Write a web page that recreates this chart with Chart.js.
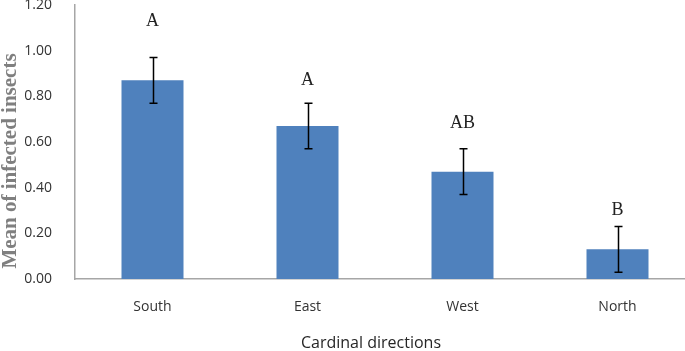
<!DOCTYPE html>
<html>
<head>
<meta charset="utf-8">
<script src="https://cdn.jsdelivr.net/npm/chart.js"></script>
<style>
    html, body { margin: 0; padding: 0; background: #fff; overflow: hidden; }
    #wrap { width: 700px; height: 351px; }
</style>
</head>
<body>
<div id="wrap"><canvas id="chart-insects" width="700" height="351"></canvas></div>
<script>

const directions = ['South', 'East', 'West', 'North'];
const meanInsects = [0.87, 0.67, 0.47, 0.13];
const errInsects = [0.10, 0.10, 0.10, 0.10];
const groupLetters = ['A', 'A', 'AB', 'B'];
const letterLevels = [1.13, 0.87, 0.68, 0.30];


const errorBars = {
    id: 'errorBars',
    afterDatasetsDraw(chart) {
        const ctx = chart.ctx;
        const x = chart.scales.x;
        const y = chart.scales.y;
        ctx.save();
        ctx.strokeStyle = '#000';
        ctx.lineWidth = 1.5;
        meanInsects.forEach((m, i) => {
            const px = Math.round(x.getPixelForValue(i)) + 0.5;
            const top = y.getPixelForValue(m + errInsects[i]);
            const bot = y.getPixelForValue(m - errInsects[i]);
            ctx.beginPath();
            ctx.moveTo(px, top);
            ctx.lineTo(px, bot);
            ctx.moveTo(px - 4, top);
            ctx.lineTo(px + 4, top);
            ctx.moveTo(px - 4, bot);
            ctx.lineTo(px + 4, bot);
            ctx.stroke();
        });

        // letters over the bars
        ctx.fillStyle = '#222';
        ctx.font = '18px "Liberation Serif"';
        ctx.textAlign = 'center';
        ctx.textBaseline = 'middle';
        groupLetters.forEach((t, i) => {
            ctx.fillText(t, x.getPixelForValue(i), y.getPixelForValue(letterLevels[i]));
        });

        // axis titles
        ctx.fillStyle = '#262626';
        ctx.font = '16px "Open Sans"';
        ctx.fillText('Cardinal directions', 371, 343);

        ctx.translate(11, 161);
        ctx.rotate(-Math.PI / 2);
        ctx.fillStyle = '#7f7f7f';
        ctx.font = 'bold 21px "Liberation Serif"';
        ctx.fillText('Mean of infected insects', 0, 0);
        ctx.restore();
    }
};


const dataInsects = {
    labels: directions,
    datasets: [{
        label: 'Mean of infected insects',
        data: meanInsects,
        backgroundColor: '#4f81bd',
        borderWidth: 0,
        barPercentage: 0.4,
        categoryPercentage: 1
    }]
};


const configInsects = new Chart(
    document.getElementById('chart-insects'), {
    type: 'bar',
    data: dataInsects,
    plugins: [errorBars],
    options: {
        responsive: false,
        animation: false,
        layout: {
            padding: { top: 5, right: 5, left: 0, bottom: 0 }
        },
        plugins: {
            legend: { display: false },
            tooltip: { enabled: false }
        },
        scales: {
            x: {
                grid: { display: false },
                border: { display: true, color: '#a6a6a6', width: 1.5 },
                ticks: {
                    color: '#333',
                    padding: 12,
                    font: { family: 'Open Sans', size: 14 }
                },
                afterFit(scale) {
                    scale.height = 72;
                    scale.paddingLeft = 0;
                    scale.paddingRight = 0;
                }
            },
            y: {
                min: 0,
                max: 1.2,
                grid: { display: false },
                border: { display: true, color: '#a6a6a6', width: 1.5 },
                ticks: {
                    stepSize: 0.2,
                    color: '#333',
                    padding: 15,
                    font: { family: 'Open Sans', size: 14 },
                    callback: v => v.toFixed(2)
                },
                afterFit(scale) {
                    scale.width = 75;
                    scale.paddingTop = 0;
                    scale.paddingBottom = 0;
                }
            }
        }
    }
});
</script>
</body>
</html>
